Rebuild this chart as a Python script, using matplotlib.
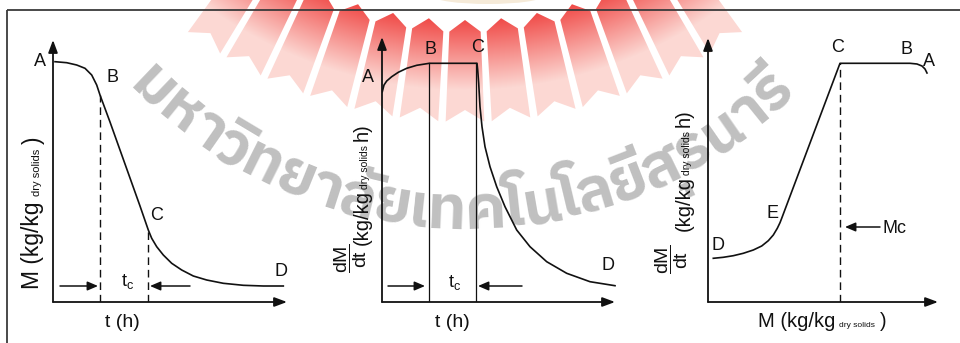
import numpy as np
import matplotlib
matplotlib.use("Agg")
import matplotlib.pyplot as plt
from matplotlib.patches import PathPatch, Ellipse
from matplotlib.path import Path
from matplotlib.colors import to_rgb
from matplotlib import font_manager
from matplotlib.ft2font import FT2Font

plt.rcParams['font.family'] = ['Liberation Sans', 'DejaVu Sans']
plt.rcParams['mathtext.fontset'] = 'custom'
plt.rcParams['mathtext.rm'] = 'Liberation Sans'
plt.rcParams['mathtext.it'] = 'Liberation Sans:italic'
plt.rcParams['mathtext.bf'] = 'Liberation Sans:bold'

W, H = 960, 343

# ---------------- data (units = px from each panel's origin)
# Panel 1: moisture content M versus time t
p1_t = [2, 13.7, 23.7, 32, 38.7, 43.7, 47, 57, 67, 77, 87, 95.3, 98.7, 103.7, 110.3,
        118.7, 128.7, 140.3, 153.7, 170.3, 190.3, 210.3, 230.3]
p1_M = [240.3, 239.3, 237, 233.7, 227, 217, 207, 180, 152, 124, 96, 72, 63.7, 55.3, 47,
        38.7, 32, 26, 22, 18.7, 16.7, 16, 16]
p1_B = (47, 207)
p1_C = (95, 72)
p1_tc_y = 16
p1_tc_left = (7, 45)
p1_tc_right = (137, 97)

# Panel 2: drying rate dM/dt versus time t
p2_t = [0.3, 2, 4.7, 9.7, 16.3, 24.7, 34.7, 47.3, 95, 95.7, 96.7, 98, 100, 103, 108,
        114.7, 123, 134.7, 148, 164.7, 184.7, 208, 233]
p2_R = [210.3, 217, 221, 225.3, 229.7, 233.7, 236.7, 238.7, 238.7, 232, 218.7, 195.3,
        175.3, 155.3, 135.3, 115.3, 95.3, 72, 55.3, 40.3, 28.7, 20.3, 16.3]
p2_B = (47, 239)
p2_C = (94, 239)
p2_tc_y = 16
p2_tc_left = (6, 43)
p2_tc_right = (140, 96)

# Panel 3: drying rate dM/dt versus moisture content M
p3_M = [5.3, 15.3, 25.3, 35.3, 45.3, 53.7, 60.3, 65.3, 69.3, 72, 73.7, 132, 202, 209,
        214, 217, 219]
p3_R = [43.7, 44.7, 46.3, 48.7, 52, 56, 61.3, 67, 73.7, 79.3, 83.7, 238.7, 238.7, 238,
        236, 233, 229]
p3_C = (132, 239)
p3_Mc_y = 75
p3_Mc_arrow = (172, 137)

# point labels (px, image coords)
p1_labels = [("A", 40, 62), ("B", 112, 77), ("C", 157, 215), ("D", 281, 272)]
p2_labels = [("A", 368, 77), ("B", 431, 50), ("C", 478, 48), ("D", 608, 265)]
p3_labels = [("C", 838, 48), ("B", 906, 50), ("A", 929, 62), ("E", 772, 213), ("D", 718, 245)]

watermark_clusters = ["ม", "ห", "า", "วิ", "ท", "ย", "า", "ลั", "ย", "เ", "ท", "ค",
                      "โ", "น", "โ", "ล", "ยี", "สุ", "ร", "น", "า", "รี"]

# ---------------- figure
fig = plt.figure(figsize=(9.6, 3.43), dpi=100)
fig.patch.set_facecolor('white')
bg = fig.add_axes([0, 0, 1, 1])
bg.set_xlim(0, W)
bg.set_ylim(H, 0)
bg.axis('off')
renderer = fig.canvas.get_renderer()


def text_w(s, size, family=None, weight='normal'):
    kw = {}
    if family is not None:
        kw['family'] = family
    t = fig.text(0, 0, s, fontsize=size, weight=weight, **kw)
    w = t.get_window_extent(renderer).width
    t.remove()
    return w


# ---------- logo watermark (fan of chevron rays)
cx_l, cy_l = 465, -350
r_in, r_out, tip = 382, 472, 12
n_rays, pitch, gap = 13, 5.6, 0.9


def pol(phi_deg, r):
    p = np.deg2rad(phi_deg)
    return (cx_l + r * np.sin(p), cy_l + r * np.cos(p))


paths = []
for i in range(n_rays):
    c = (i - (n_rays - 1) / 2) * pitch
    l, r = c - (pitch - gap) / 2, c + (pitch - gap) / 2
    v = [pol(c, r_in - tip), pol(l, r_in), pol(l, r_out), pol(c, r_out - tip),
         pol(r, r_out), pol(r, r_in), pol(c, r_in - tip)]
    paths.append(Path(v, [Path.MOVETO] + [Path.LINETO] * 5 + [Path.CLOSEPOLY]))
compound = Path.make_compound_path(*paths)
clip_patch = PathPatch(compound, transform=bg.transData, facecolor='none', edgecolor='none')
bg.add_patch(clip_patch)
gx = np.arange(120, 820) + 0.5
gy = np.arange(0, 160) + 0.5
XX, YY = np.meshgrid(gx, gy)
RR = np.hypot(XX - cx_l, YY - cy_l)
tt = np.clip((RR - (r_in - 12)) / 70.0, 0, 1)[..., None]
inner = np.array(to_rgb('#f04a47'))
outer = np.array(to_rgb('#fcd8d3'))
img = inner * (1 - tt) + outer * tt
im = bg.imshow(img, extent=(120, 820, 160, 0), origin='upper', aspect='auto',
               zorder=0.5, interpolation='bilinear')
im.set_clip_path(clip_patch)
bg.add_patch(Ellipse((488, -4), 110, 16, facecolor='#f5ead8', edgecolor='none', zorder=0.6))
bg.set_xlim(0, W)
bg.set_ylim(H, 0)

# ---------- Thai text watermark along an arc
cands = []
for fe in font_manager.fontManager.ttflist:
    try:
        cm = FT2Font(fe.fname).get_charmap()
        if 0x0E21 in cm and 0x0E34 in cm:
            cands.append(fe.name)
    except Exception:
        pass
cands = sorted(set(cands), key=lambda n: ('Looped' in n, 'Thai' not in n, n))
thai_font = cands[0] if cands else None
wm_family = [thai_font, 'DejaVu Sans'] if thai_font else ['DejaVu Sans']
wm_size = 10
widths = [text_w(s, wm_size, wm_family, 'bold') for s in watermark_clusters]
arc_cx, arc_cy, arc_R = 465, -239, 468
span0, span1 = -46.0, 45.0
target = np.deg2rad(span1 - span0) * arc_R
scale = target / sum(widths)
wm_size *= scale
widths = [w * scale for w in widths]
s = np.deg2rad(span0) * arc_R
for ch, w in zip(watermark_clusters, widths):
    phi = (s + w / 2) / arc_R
    x = arc_cx + arc_R * np.sin(phi)
    y = arc_cy + arc_R * np.cos(phi)
    bg.text(x, y, ch, fontsize=wm_size, family=wm_family, weight='bold', color='#c0c0c0',
            rotation=np.rad2deg(phi), rotation_mode='anchor', ha='center', va='baseline',
            zorder=1)
    s += w

# ---------- frame lines
bg.plot([7, 7], [H, 10], color='#3a3a3a', lw=1.3, zorder=2, solid_capstyle='butt')
bg.plot([7, W], [10, 10], color='#3a3a3a', lw=1.3, zorder=2, solid_capstyle='butt')

# ---------- panels
LINE = '#111111'
arrow_kw = dict(arrowstyle='-|>,head_length=0.75,head_width=0.28', color=LINE, lw=1.3,
                mutation_scale=10, shrinkA=0, shrinkB=0)
small_arrow_kw = dict(arrowstyle='-|>,head_length=0.7,head_width=0.3', color=LINE, lw=1.1,
                      mutation_scale=9, shrinkA=0, shrinkB=0)
DASH = (0, (5.5, 3.5))


def panel(ox, oy, w=250, h=275):
    ax = fig.add_axes([ox / W, (H - oy) / H, w / W, h / H])
    ax.set_xlim(0, w)
    ax.set_ylim(0, h)
    ax.axis('off')
    return ax


def axis_arrows(ax, xt, yt):
    ax.annotate('', xy=(xt, 0), xytext=(0, 0), arrowprops=arrow_kw, annotation_clip=False)
    ax.annotate('', xy=(0, yt), xytext=(0, 0), arrowprops=arrow_kw, annotation_clip=False)


def harrow(ax, y, x0, x1):
    ax.annotate('', xy=(x1, y), xytext=(x0, y), arrowprops=small_arrow_kw, annotation_clip=False)


# Panel 1
ax1 = panel(53, 302)
axis_arrows(ax1, 234, 262)
ax1.plot(p1_t, p1_M, color=LINE, lw=1.2, solid_joinstyle='round')
ax1.plot([p1_B[0], p1_B[0]], [0, p1_B[1]], color=LINE, lw=1.0, ls=DASH)
ax1.plot([p1_C[0], p1_C[0]], [0, p1_C[1]], color=LINE, lw=1.0, ls=DASH)
harrow(ax1, p1_tc_y, *p1_tc_left)
harrow(ax1, p1_tc_y, *p1_tc_right)

# Panel 2
ax2 = panel(382, 302)
axis_arrows(ax2, 233, 265)
ax2.plot(p2_t, p2_R, color=LINE, lw=1.2, solid_joinstyle='round')
ax2.plot([p2_B[0], p2_B[0]], [0, p2_B[1]], color=LINE, lw=0.9)
ax2.plot([p2_C[0], p2_C[0]], [0, p2_C[1]], color=LINE, lw=0.9)
harrow(ax2, p2_tc_y, *p2_tc_left)
harrow(ax2, p2_tc_y, *p2_tc_right)

# Panel 3
ax3 = panel(708, 302)
axis_arrows(ax3, 230, 264)
ax3.plot(p3_M, p3_R, color=LINE, lw=1.2, solid_joinstyle='round')
ax3.plot([p3_C[0], p3_C[0]], [0, p3_C[1]], color=LINE, lw=1.0, ls=DASH)
harrow(ax3, p3_Mc_y, *p3_Mc_arrow)

# ---------- texts
LET = 13
for lab, x, y in p1_labels + p2_labels + p3_labels:
    bg.text(x, y, lab, fontsize=LET, ha='center', va='center', color=LINE, zorder=5)
bg.text(128, 286, r"t$_\mathrm{c}$", fontsize=LET, ha='center', va='baseline', color=LINE, zorder=5)
bg.text(455, 287, r"t$_\mathrm{c}$", fontsize=LET, ha='center', va='baseline', color=LINE, zorder=5)
bg.text(882, 233, "Mc", fontsize=LET, ha='left', va='baseline', color=LINE, zorder=5)
bg.text(122, 327, "t (h)", fontsize=14, ha='center', va='baseline', color=LINE, zorder=5)
bg.text(452, 327, "t (h)", fontsize=14, ha='center', va='baseline', color=LINE, zorder=5)


def chain(x, y, pieces, rotation=0):
    for s_, size, gap_ in pieces:
        bg.text(x, y, s_, fontsize=size, rotation=rotation, rotation_mode='anchor',
                ha='left', va='baseline', color=LINE, zorder=5)
        w = text_w(s_, size)
        if rotation == 90:
            y -= w + gap_
        else:
            x += w + gap_


chain(39.5, 289, [("M (kg/kg", 16.5, 5), ("dry solids", 8, 5), (")", 16.5, 0)], rotation=90)
chain(368, 245, [("(kg/kg", 14.5, 1), ("dry solids", 7.5, 4), ("h)", 14.5, 0)], rotation=90)
chain(690, 231, [("(kg/kg", 14.5, 1), ("dry solids", 7.5, 4), ("h)", 14.5, 0)], rotation=90)
chain(758, 327, [("M (kg/kg", 14.5, 4), ("dry solids", 6, 5), (")", 14.5, 0)], rotation=0)

frac = r"$\dfrac{\mathrm{dM}}{\mathrm{dt}}$"
bg.text(351, 258, frac, fontsize=14, rotation=90, rotation_mode='anchor', ha='center',
        va='center', color=LINE, zorder=5)
bg.text(672, 259, frac, fontsize=14, rotation=90, rotation_mode='anchor', ha='center',
        va='center', color=LINE, zorder=5)

fig.savefig("out.png", dpi=100)
